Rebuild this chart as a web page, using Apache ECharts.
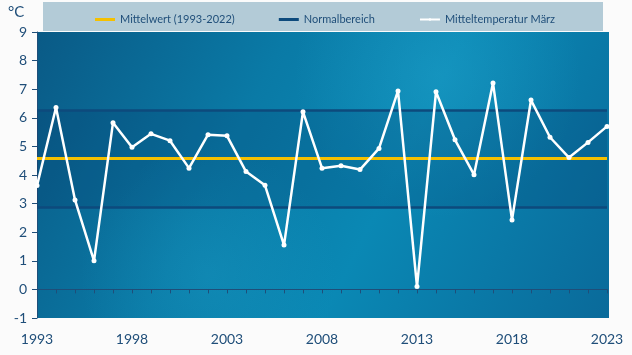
<!DOCTYPE html>
<html>
<head>
<meta charset="utf-8">
<script src="https://cdn.jsdelivr.net/npm/echarts@6/dist/echarts.min.js"></script>
<style>html,body{margin:0;padding:0;background:#fbfbfb;}#c{width:632px;height:355px;}</style>
</head>
<body>
<div id="c"></div>
<script>
const years = ['1993','1994','1995','1996','1997','1998','1999','2000','2001','2002','2003','2004','2005','2006','2007','2008','2009','2010','2011','2012','2013','2014','2015','2016','2017','2018','2019','2020','2021','2022','2023'];
const marchTemp = [3.63,6.36,3.13,1.0,5.83,4.97,5.44,5.2,4.24,5.41,5.37,4.12,3.64,1.55,6.21,4.24,4.32,4.19,4.93,6.94,0.1,6.91,5.23,4.01,7.22,2.43,6.62,5.32,4.61,5.14,5.7];
const meanValue = [4.6];
const normalRange = [2.88, 6.27];
const yTicks = [-1,0,1,2,3,4,5,6,7,8,9];

const txt = '#1f4e79';
const font = 'Lato, "Open Sans", sans-serif';

const chart = echarts.init(document.getElementById('c'));
chart.setOption({
  backgroundColor: '#fbfbfb',
  animation: false,
  graphic: [
    {type:'rect', z:-10, shape:{x:43,y:2,width:560,height:29}, style:{fill:'#b3cbd7'}},
    {type:'rect', z:-9, shape:{x:37,y:32,width:572,height:286}, style:{fill:new echarts.graphic.LinearGradient(0,0,1,1,[
      {offset:0,color:'#0a5a86'},{offset:0.35,color:'#0a7aa6'},{offset:0.6,color:'#0a88b4'},{offset:1,color:'#0a6a9a'}])}},
    {type:'rect', z:-8, shape:{x:37,y:32,width:572,height:286}, style:{fill:new echarts.graphic.RadialGradient(0.7,0.15,0.5,[
      {offset:0,color:'rgba(40,170,210,0.35)'},{offset:1,color:'rgba(40,170,210,0)'}])}},
    {type:'rect', z:-8, shape:{x:37,y:32,width:572,height:286}, style:{fill:new echarts.graphic.RadialGradient(0.3,0.85,0.45,[
      {offset:0,color:'rgba(30,160,200,0.3)'},{offset:1,color:'rgba(30,160,200,0)'}])}},
    {type:'text', left:8, top:5, style:{text:'°C', fill:txt, font:'15px '+font}}
  ],
  legend: {
    top: 9, left: 90,
    itemWidth: 20, itemHeight: 3, itemGap: 44,
    textStyle: {color: txt, fontSize: 11, fontFamily: font},
    data: [
      {name:'Mittelwert (1993-2022)', icon:'rect'},
      {name:'Normalbereich', icon:'rect'},
      {name:'Mitteltemperatur März'}
    ]
  },
  grid: {left:37, right:25, top:32, bottom:37},
  xAxis: {
    type:'category', data: years, boundaryGap:false,
    axisLine:{lineStyle:{color:txt, width:1}},
    axisTick:{show:true, interval:0, length:4, lineStyle:{color:txt}},
    axisLabel:{interval:4, color:txt, fontSize:14, fontFamily:font, margin:14},
    splitLine:{show:false}
  },
  yAxis: {
    type:'value', min:yTicks[0], max:yTicks[yTicks.length-1], interval:1,
    axisLine:{show:true, lineStyle:{color:txt}},
    axisTick:{show:true, length:5, lineStyle:{color:txt}},
    axisLabel:{color:txt, fontSize:14, fontFamily:font, margin:10},
    splitLine:{show:false}
  },
  series: [
    {name:'Mittelwert (1993-2022)', type:'line', data:[], symbol:'none',
      itemStyle:{color:'#f5c000'}, lineStyle:{color:'#f5c000', width:3},
      markLine:{silent:true, symbol:'none', label:{show:false},
        lineStyle:{color:'#f5c000', width:3, type:'solid'},
        data: meanValue.map(v=>({yAxis:v}))}},
    {name:'Normalbereich', type:'line', data:[], symbol:'none',
      itemStyle:{color:'#0d4a7c'}, lineStyle:{color:'#0d4a7c', width:3},
      markArea:{silent:true, itemStyle:{color:'rgba(0,40,90,0.18)'},
        data:[[{yAxis:normalRange[0]},{yAxis:normalRange[1]}]]},
      markLine:{silent:true, symbol:'none', label:{show:false},
        lineStyle:{color:'#0d4a7c', width:2.5, type:'solid'},
        data: normalRange.map(v=>({yAxis:v}))}},
    {name:'Mitteltemperatur März', type:'line', data: marchTemp, z:5,
      symbol:'circle', symbolSize:5, showSymbol:true,
      itemStyle:{color:'#ffffff'}, lineStyle:{color:'#ffffff', width:2.5}}
  ]
});
</script>
</body>
</html>
